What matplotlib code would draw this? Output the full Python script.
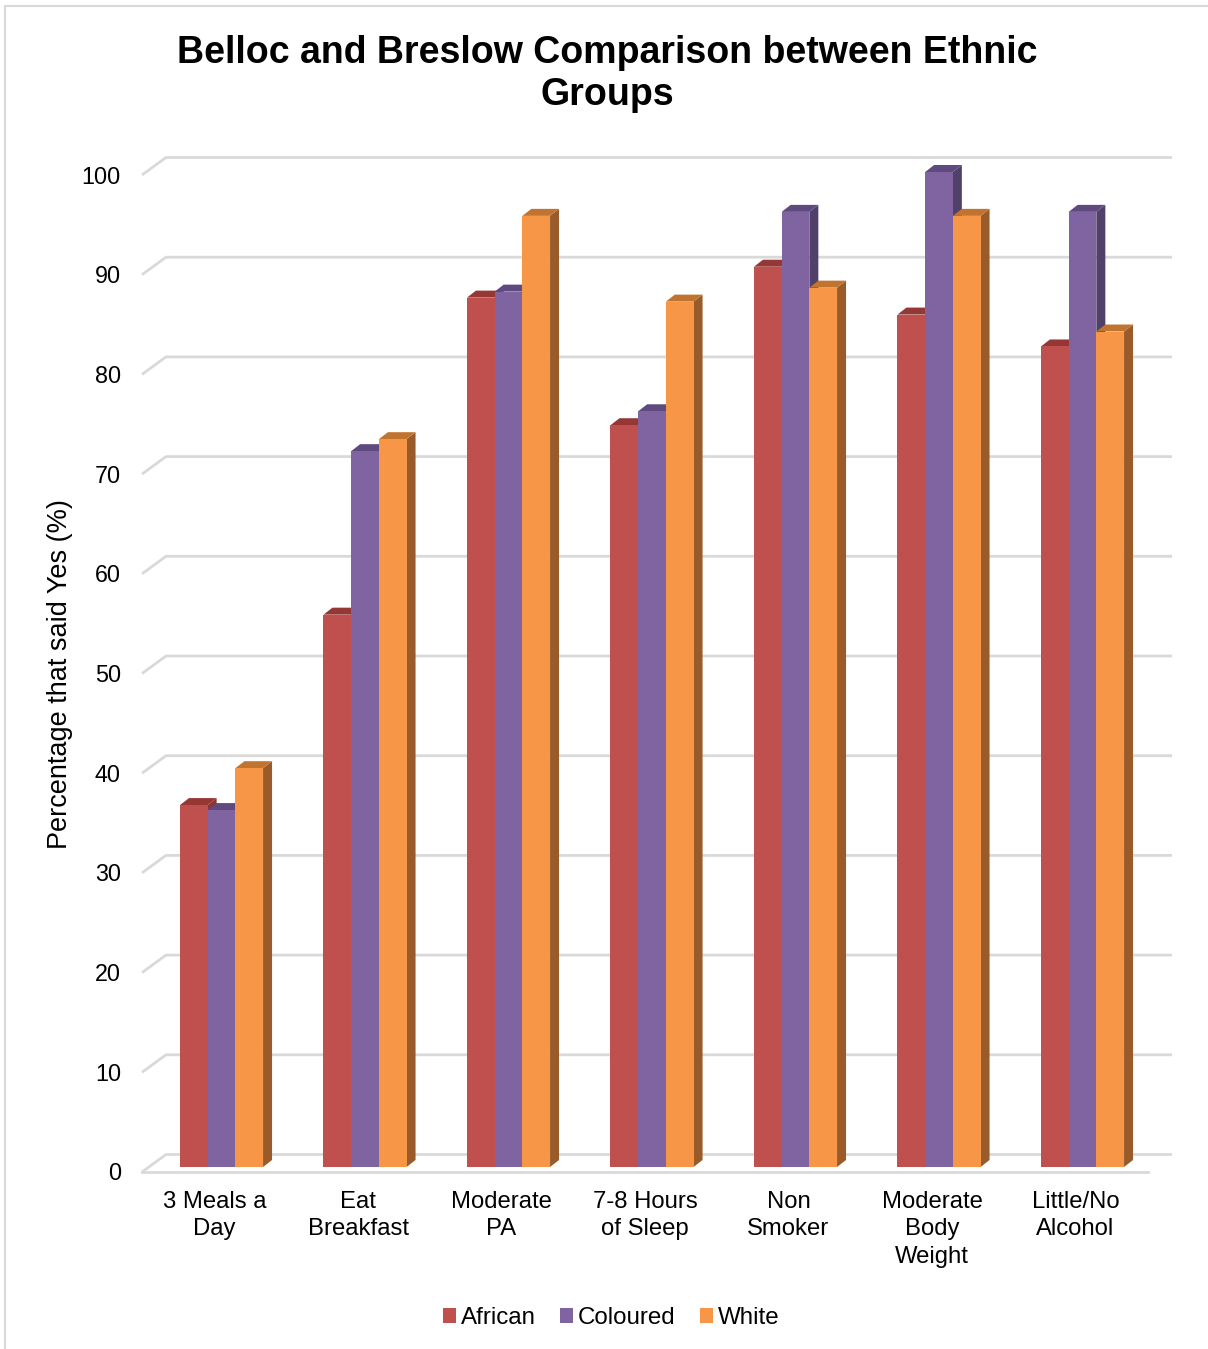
import numpy as np
import matplotlib.pyplot as plt
from matplotlib.patches import Polygon, Rectangle

plt.rcParams['font.family'] = ['Liberation Sans', 'DejaVu Sans']

categories = ['3 Meals a\nDay', 'Eat\nBreakfast', 'Moderate\nPA', '7-8 Hours\nof Sleep',
              'Non\nSmoker', 'Moderate\nBody\nWeight', 'Little/No\nAlcohol']
groups = ['African', 'Coloured', 'White']
african = [36.3, 55.4, 87.2, 74.4, 90.3, 85.5, 82.3]
coloured = [35.8, 71.8, 87.8, 75.8, 95.8, 99.8, 95.8]
white = [40.0, 73.0, 95.4, 86.8, 88.2, 95.4, 83.8]
yticks = [0, 10, 20, 30, 40, 50, 60, 70, 80, 90, 100]

# front, top, side colours per group
front_c = ['#C0504D', '#8064A2', '#F79646']
top_c = ['#953735', '#5F4A80', '#C0742F']
side_c = ['#8C3532', '#514069', '#9A5B2A']
grid_c = '#D9D9D9'

W, H = 1208, 1349
px_x = 143.5      # pixels per category
px_y = 9.97       # pixels per percent
x_org, y_org = 221.5, 1167   # pixel of category 0 / value 0 on bar front plane

fig = plt.figure(figsize=(W / 100, H / 100), dpi=100)
ax = fig.add_axes([0, 0, 1, 1])
ax.set_xlim(-x_org / px_x, (W - x_org) / px_x)
ax.set_ylim((y_org - H) / px_y, y_org / px_y)
ax.axis('off')

# bar geometry (data units)
bw = 27.7 / px_x
bdx, bdy = 9 / px_x, 7 / px_y
# floor / wall geometry
fx0 = (142 - x_org) / px_x
fx1 = (1148 - x_org) / px_x
wdx, wdy = 24 / px_x, 17.5 / px_y
fy = -5 / px_y

# back wall gridlines with the slanted side stub
for v in yticks:
    ax.plot([fx0, fx0 + wdx, fx1 + wdx], [v + fy, v + fy + wdy, v + fy + wdy],
            color=grid_c, lw=2, solid_capstyle='butt', zorder=1)
    ax.text((121 - x_org) / px_x, v + fy - 2 / px_y, str(v), ha='right', va='center',
            fontsize=16.8)
ax.plot([fx0, fx1], [fy, fy], color=grid_c, lw=2, zorder=1)

series = [african, coloured, white]
x = np.arange(len(categories))
handles = []
for i in range(len(categories)):
    for j, vals in enumerate(series):
        xc = x[i] + (j - 1) * bw
        x0, x1 = xc - bw / 2, xc + bw / 2
        v = vals[i]
        ax.add_patch(Polygon([(x1, 0), (x1 + bdx, bdy), (x1 + bdx, v + bdy), (x1, v)],
                             closed=True, facecolor=side_c[j], edgecolor='none', zorder=2))
        ax.add_patch(Polygon([(x0, v), (x1, v), (x1 + bdx, v + bdy), (x0 + bdx, v + bdy)],
                             closed=True, facecolor=top_c[j], edgecolor='none', zorder=2))
        b = ax.bar(xc, v, width=bw, color=front_c[j], edgecolor='none', zorder=2,
                   label=groups[j] if i == 0 else None)
        if i == 0:
            handles.append(b)

for i, lab in enumerate(categories):
    ax.text(x[i] - 7 / px_x, (y_org - 1191) / px_y, lab, ha='center', va='top',
            fontsize=17.2, linespacing=1.31)

fig.text(60 / W, 1 - 674 / H, 'Percentage that said Yes (%)', rotation=90,
         ha='center', va='center', fontsize=19.5)
fig.text(607 / W, 1 - 74 / H, 'Belloc and Breslow Comparison between Ethnic\nGroups',
         ha='center', va='center', fontsize=27, fontweight='bold', linespacing=1.2)

fig.legend(handles=handles, labels=groups, loc='center', bbox_to_anchor=(611 / W, 1 - 1318 / H),
           ncol=3, frameon=False, fontsize=17.4, handlelength=0.55, handleheight=0.55,
           handletextpad=0.2, columnspacing=1.0)

fig.patches.append(Rectangle((5 / W, -0.1), 1.1, 1 - 6 / H + 0.1, transform=fig.transFigure,
                             fill=False, edgecolor=grid_c, lw=1.5))

plt.savefig('out.png', dpi=100)
